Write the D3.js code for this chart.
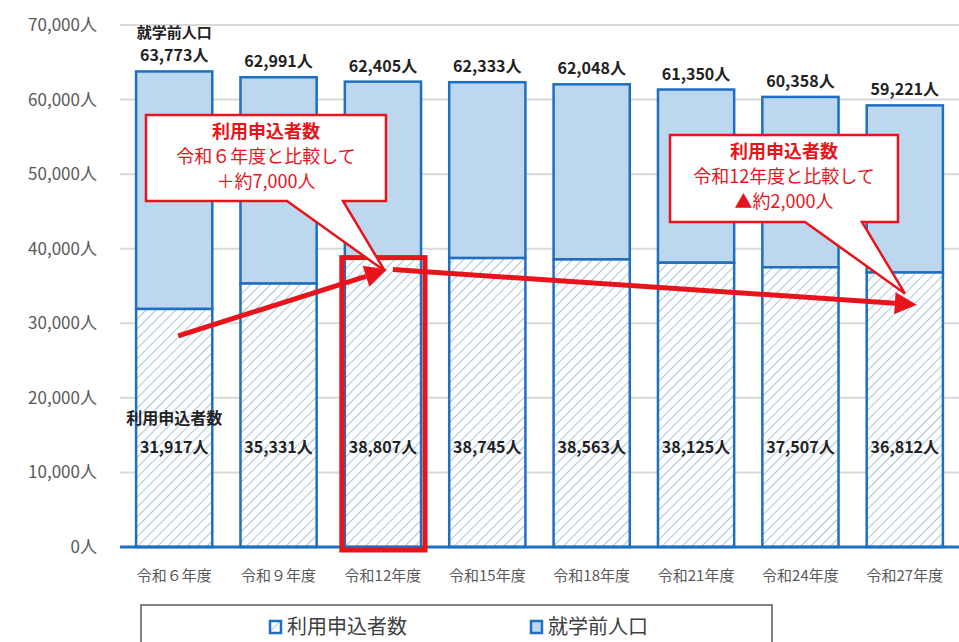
<!DOCTYPE html>
<html>
<head>
<meta charset="utf-8">
<script src="https://cdn.jsdelivr.net/npm/d3@7"></script>
<style>
body{margin:0;background:#fff;}
svg{display:block;font-family:"Noto Sans CJK JP","Noto Sans",sans-serif;}
</style>
</head>
<body>
<svg id="chart" width="959" height="642"></svg>
<script>
// データ
var categories = ["令和６年度","令和９年度","令和12年度","令和15年度","令和18年度","令和21年度","令和24年度","令和27年度"];
var population = [63773, 62991, 62405, 62333, 62048, 61350, 60358, 59221];
var applicants = [31917, 35331, 38807, 38745, 38563, 38125, 37507, 36812];
var yTicks = [0, 10000, 20000, 30000, 40000, 50000, 60000, 70000];
var seriesNames = ["利用申込者数", "就学前人口"];

var svg = d3.select("#chart");
var blue = "#1f6fc0", red = "#e8141c";
var fmt = d3.format(",");

var x = d3.scaleBand().domain(categories).range([122, 957]).paddingInner(0.27).paddingOuter(0.135);
var y = d3.scaleLinear().domain([0, 70000]).range([547, 25]);

// 斜線パターン
var defs = svg.append("defs");
var pat = defs.append("pattern").attr("id", "hatch").attr("patternUnits", "userSpaceOnUse")
    .attr("width", 7).attr("height", 7).attr("patternTransform", "rotate(45)");
pat.append("rect").attr("width", 7).attr("height", 7).attr("fill", "#fff");
pat.append("line").attr("x1", 0).attr("y1", 0).attr("x2", 0).attr("y2", 7)
    .attr("stroke", "#a9c3df").attr("stroke-width", 2);

// グリッド
svg.append("g").selectAll("line").data(yTicks.slice(1)).enter().append("line")
    .attr("x1", 120).attr("x2", 959)
    .attr("y1", function(d){ return y(d); }).attr("y2", function(d){ return y(d); })
    .attr("stroke", "#d9d9d9").attr("stroke-width", 2);

// y軸ラベル
svg.append("g").selectAll("text").data(yTicks).enter().append("text")
    .attr("x", 97).attr("y", function(d){ return y(d); }).attr("dy", "0.35em")
    .attr("text-anchor", "end").attr("fill", "#595959").attr("font-size", 17)
    .text(function(d){ return fmt(d) + "人"; });

// 棒（就学前人口 上部）
svg.append("g").selectAll("rect").data(categories).enter().append("rect")
    .attr("x", function(d){ return x(d); })
    .attr("y", function(d, i){ return y(population[i]); })
    .attr("width", x.bandwidth())
    .attr("height", function(d, i){ return y(applicants[i]) - y(population[i]); })
    .attr("fill", "#bdd7ee").attr("stroke", blue).attr("stroke-width", 2.5);

// 棒（利用申込者数）
svg.append("g").selectAll("rect").data(categories).enter().append("rect")
    .attr("x", function(d){ return x(d); })
    .attr("y", function(d, i){ return y(applicants[i]); })
    .attr("width", x.bandwidth())
    .attr("height", function(d, i){ return y(0) - y(applicants[i]); })
    .attr("fill", "url(#hatch)").attr("stroke", blue).attr("stroke-width", 2.5);

// x軸
svg.append("line").attr("x1", 120).attr("x2", 959).attr("y1", y(0)).attr("y2", y(0))
    .attr("stroke", blue).attr("stroke-width", 3);

svg.append("g").selectAll("text").data(categories).enter().append("text")
    .attr("x", function(d){ return x(d) + x.bandwidth() / 2; }).attr("y", 581)
    .attr("text-anchor", "middle").attr("fill", "#595959").attr("font-size", 15)
    .text(function(d){ return d; });

// 値ラベル
svg.append("g").selectAll("text").data(categories).enter().append("text")
    .attr("x", function(d){ return x(d) + x.bandwidth() / 2; })
    .attr("y", function(d, i){ return y(population[i]) - 10; })
    .attr("text-anchor", "middle").attr("font-size", 16).attr("font-weight", "bold").attr("fill", "#222")
    .text(function(d, i){ return fmt(population[i]) + "人"; });
svg.append("text").attr("x", x(categories[0]) + x.bandwidth() / 2).attr("y", y(population[0]) - 33)
    .attr("text-anchor", "middle").attr("font-size", 15).attr("font-weight", "bold").attr("fill", "#222")
    .text(seriesNames[1]);

svg.append("g").selectAll("text").data(categories).enter().append("text")
    .attr("x", function(d){ return x(d) + x.bandwidth() / 2; })
    .attr("y", 453)
    .attr("text-anchor", "middle").attr("font-size", 16).attr("font-weight", "bold").attr("fill", "#222")
    .text(function(d, i){ return fmt(applicants[i]) + "人"; });
svg.append("text").attr("x", x(categories[0]) + x.bandwidth() / 2).attr("y", 424)
    .attr("text-anchor", "middle").attr("font-size", 16).attr("font-weight", "bold").attr("fill", "#222")
    .text(seriesNames[0]);

// 強調枠
svg.append("rect").attr("x", x(categories[2]) - 3).attr("y", y(38807))
    .attr("width", x.bandwidth() + 7).attr("height", y(0) - y(38807) + 3)
    .attr("fill", "none").attr("stroke", red).attr("stroke-width", 5);

// 矢印
function arrow(x1, y1, x2, y2){
    var ang = Math.atan2(y2 - y1, x2 - x1), L = 22, W = 11;
    var bx = x2 - L * Math.cos(ang), by = y2 - L * Math.sin(ang);
    svg.append("line").attr("x1", x1).attr("y1", y1).attr("x2", bx).attr("y2", by)
        .attr("stroke", red).attr("stroke-width", 5);
    svg.append("path").attr("fill", red).attr("d", d3.line()([
        [x2, y2],
        [bx + W * Math.sin(ang), by - W * Math.cos(ang)],
        [bx - W * Math.sin(ang), by + W * Math.cos(ang)]
    ]));
}
var cx = function(i){ return x(categories[i]) + x.bandwidth() / 2; };
arrow(cx(0) + 4, y(28300), cx(2) + 4, y(37200));
arrow(cx(2) + 10, y(37200), cx(7) + 12, y(32500));

// 吹き出し
function callout(bx, by, bw, bh, tail, lines){
    var p = d3.path();
    p.moveTo(bx, by); p.lineTo(bx + bw, by); p.lineTo(bx + bw, by + bh);
    p.lineTo(tail[1], by + bh); p.lineTo(tail[2][0], tail[2][1]); p.lineTo(tail[0], by + bh);
    p.lineTo(bx, by + bh); p.closePath();
    svg.append("path").attr("d", p.toString()).attr("fill", "#fff").attr("stroke", red)
        .attr("stroke-width", 2.5).attr("stroke-linejoin", "miter");
    lines.forEach(function(t, i){
        svg.append("text").attr("x", bx + bw / 2).attr("y", by + 23 + i * 25)
            .attr("text-anchor", "middle").attr("fill", red).attr("font-size", 18)
            .attr("font-weight", i === 0 ? "bold" : "normal").text(t);
    });
}
callout(146, 115, 240, 86, [287, 343, [cx(2) + 2, y(37000)]],
    ["利用申込者数", "令和６年度と比較して", "＋約7,000人"]);
callout(670, 135, 228, 87, [805, 862, [cx(7), y(34000)]],
    ["利用申込者数", "令和12年度と比較して", "▲約2,000人"]);

// 凡例
svg.append("rect").attr("x", 141).attr("y", 605).attr("width", 631).attr("height", 50)
    .attr("fill", "#fff").attr("stroke", "#595959").attr("stroke-width", 1.5);
var legX = [270, 531];
var leg = svg.append("g").selectAll("g").data(seriesNames).enter().append("g")
    .attr("transform", function(d, i){ return "translate(" + legX[i] + ",621)"; });
leg.append("rect").attr("x", 0).attr("y", 0).attr("width", 11).attr("height", 12)
    .attr("fill", function(d, i){ return i === 0 ? "url(#hatch)" : "#bdd7ee"; })
    .attr("stroke", blue).attr("stroke-width", 2.5);
leg.append("text").attr("x", 17).attr("y", 6).attr("dy", "0.35em")
    .attr("font-size", 20).attr("fill", "#404040").text(function(d){ return d; });
</script>
</body>
</html>
